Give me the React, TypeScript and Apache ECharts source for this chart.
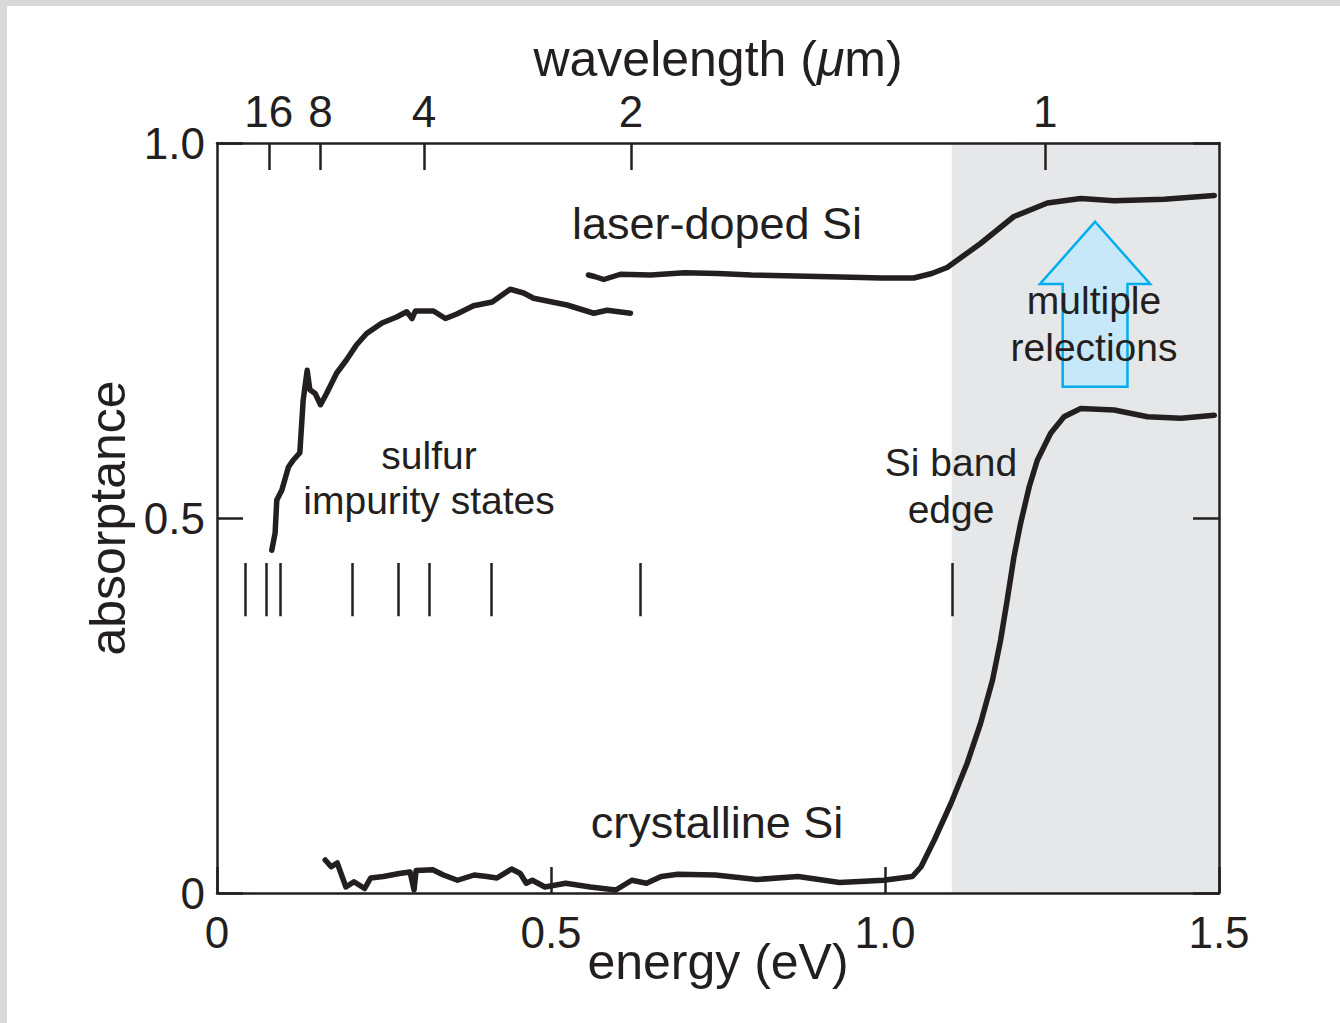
import React, { useEffect, useRef } from "react";
import * as echarts from "echarts";

const FONT = '"Liberation Sans", Arial, Helvetica, sans-serif';
const INK = "#231f20";
const HC_EV_UM = 1.2398; // photon energy (eV) x wavelength (um)

// axis ticks
const energyTicks = [0, 0.5, 1.0, 1.5];
const absorptanceTicks = [0, 0.5, 1.0];
const wavelengthTicks = [16, 8, 4, 2, 1];

// shaded region (multiple reflections), eV
const shadedRange = [1.1, 1.5];

// sulfur impurity state energies + Si band edge (eV), and the absorptance span of their markers
const stateEnergies = [0.042, 0.073, 0.094, 0.202, 0.271, 0.318, 0.411, 0.634, 1.1];
const stateMarkerSpan = [0.369, 0.44];

// laser-doped Si, low-energy measurement [eV, absorptance]
const laserDopedLow = [
  [0.082, 0.457], [0.087, 0.48], [0.0895, 0.524], [0.097, 0.537], [0.107, 0.568],
  [0.114, 0.577], [0.124, 0.587], [0.129, 0.657], [0.135, 0.697], [0.139, 0.671],
  [0.147, 0.666], [0.155, 0.651], [0.164, 0.666], [0.179, 0.693], [0.194, 0.711],
  [0.209, 0.731], [0.224, 0.746], [0.247, 0.76], [0.269, 0.768], [0.284, 0.775],
  [0.292, 0.766], [0.297, 0.776], [0.324, 0.776], [0.342, 0.766], [0.359, 0.772],
  [0.384, 0.783], [0.412, 0.788], [0.439, 0.805], [0.459, 0.8], [0.474, 0.793],
  [0.524, 0.784], [0.564, 0.773], [0.584, 0.777], [0.619, 0.773],
];

// laser-doped Si, high-energy measurement
const laserDopedHigh = [
  [0.556, 0.824], [0.565, 0.822], [0.579, 0.818], [0.604, 0.825], [0.649, 0.824],
  [0.7, 0.827], [0.75, 0.826], [0.8, 0.824], [0.85, 0.823], [0.9, 0.822],
  [0.95, 0.821], [0.994, 0.82], [1.043, 0.82], [1.07, 0.826], [1.093, 0.834],
  [1.143, 0.866], [1.193, 0.902], [1.243, 0.92], [1.293, 0.926], [1.343, 0.923],
  [1.418, 0.925], [1.493, 0.93],
];

// crystalline Si
const crystallineSi = [
  [0.162, 0.044], [0.171, 0.035], [0.18, 0.04], [0.193, 0.008], [0.205, 0.015],
  [0.221, 0.006], [0.23, 0.02], [0.249, 0.022], [0.273, 0.026], [0.289, 0.028],
  [0.295, 0.004], [0.298, 0.03], [0.323, 0.031], [0.339, 0.024], [0.36, 0.017],
  [0.385, 0.024], [0.404, 0.022], [0.419, 0.02], [0.441, 0.032], [0.454, 0.026],
  [0.463, 0.013], [0.472, 0.017], [0.491, 0.008], [0.522, 0.013], [0.559, 0.008],
  [0.597, 0.004], [0.621, 0.017], [0.643, 0.013], [0.665, 0.022], [0.69, 0.025],
  [0.746, 0.024], [0.808, 0.018], [0.87, 0.022], [0.932, 0.014], [0.998, 0.017],
  [1.041, 0.022], [1.054, 0.035], [1.074, 0.071], [1.099, 0.12], [1.123, 0.173],
  [1.143, 0.226], [1.161, 0.284], [1.173, 0.337], [1.183, 0.391], [1.193, 0.448],
  [1.203, 0.493], [1.216, 0.542], [1.228, 0.577], [1.248, 0.613], [1.268, 0.635],
  [1.293, 0.646], [1.343, 0.644], [1.393, 0.635], [1.443, 0.633], [1.493, 0.637],
];

// up arrow ("multiple reflections") in data units: tip [eV, A], half widths, head base, shaft bottom
const arrowTip = [1.3145, 0.895];
const arrowHeadHalfWidth = 0.0825;
const arrowShaftHalfWidth = 0.0485;
const arrowHeadBase = 0.812;
const arrowBottom = 0.675;

const fmtTick = (v: number) => (v === 0 ? "0" : v.toFixed(1));

export default function App() {
  const ref = useRef<HTMLDivElement>(null);

  useEffect(() => {
    if (!ref.current) return;
    const chart = echarts.init(ref.current, null, { renderer: "svg" });

    const lineStyle = { color: INK, width: 5.5, join: "round", cap: "round" };
    const tickStyle = { color: INK, width: 2.5 };
    const axisLine = { show: true, onZero: false, lineStyle: { color: INK, width: 2.5 } };
    const NAME_SIZE = 50;
    const TICK_SIZE = 44;

    const annText = (text: string, x: number, y: number, size: number) => ({
      type: "text",
      x,
      y,
      z: 100,
      style: {
        text,
        fill: INK,
        fontFamily: FONT,
        fontSize: size,
        align: "center",
        verticalAlign: "middle",
      },
    });

    chart.setOption({
      animation: false,
      backgroundColor: "#ffffff",
      grid: { left: 217, right: 121, top: 143, bottom: 130, containLabel: false },
      xAxis: [
        {
          type: "value",
          position: "bottom",
          min: energyTicks[0],
          max: energyTicks[energyTicks.length - 1],
          interval: 0.5,
          z: 3,
          name: "energy (eV)",
          nameLocation: "middle",
          nameGap: 44,
          nameMoveOverlap: false,
          nameTextStyle: { fontFamily: FONT, fontSize: NAME_SIZE, color: INK },
          axisLine,
          axisTick: { show: true, inside: true, length: 26, lineStyle: tickStyle },
          axisLabel: {
            fontFamily: FONT,
            fontSize: TICK_SIZE,
            color: INK,
            margin: 17,
            formatter: fmtTick,
          },
          splitLine: { show: false },
        },
        {
          type: "value",
          position: "top",
          min: energyTicks[0],
          max: energyTicks[energyTicks.length - 1],
          z: 3,
          name: "wavelength ({i|μ}m)",
          nameLocation: "middle",
          nameGap: 57,
          nameTextStyle: {
            fontFamily: FONT,
            fontSize: NAME_SIZE,
            color: INK,
            rich: { i: { fontFamily: FONT, fontSize: NAME_SIZE, color: INK, fontStyle: "italic" } },
          },
          axisLine,
          axisTick: {
            show: true,
            inside: true,
            length: 27,
            lineStyle: tickStyle,
            customValues: wavelengthTicks.map((w) => HC_EV_UM / w),
          },
          axisLabel: {
            fontFamily: FONT,
            fontSize: TICK_SIZE,
            color: INK,
            margin: 10,
            customValues: wavelengthTicks.map((w) => HC_EV_UM / w),
            formatter: (v: number) => String(Math.round(HC_EV_UM / v)),
          },
          splitLine: { show: false },
        },
      ],
      yAxis: [
        {
          type: "value",
          position: "left",
          min: absorptanceTicks[0],
          max: absorptanceTicks[absorptanceTicks.length - 1],
          interval: 0.5,
          z: 3,
          name: "absorptance",
          nameLocation: "middle",
          nameRotate: 90,
          nameGap: 84,
          nameTextStyle: { fontFamily: FONT, fontSize: NAME_SIZE, color: INK },
          axisLine,
          axisTick: { show: true, inside: true, length: 26, lineStyle: tickStyle },
          axisLabel: {
            fontFamily: FONT,
            fontSize: TICK_SIZE,
            color: INK,
            margin: 12,
            formatter: fmtTick,
          },
          splitLine: { show: false },
        },
        {
          type: "value",
          position: "right",
          min: absorptanceTicks[0],
          max: absorptanceTicks[absorptanceTicks.length - 1],
          interval: 0.5,
          z: 3,
          axisLine,
          axisTick: { show: true, inside: true, length: 26, lineStyle: tickStyle },
          axisLabel: { show: false },
          splitLine: { show: false },
        },
      ],
      series: [
        {
          name: "crystalline Si",
          type: "line",
          xAxisIndex: 0,
          yAxisIndex: 0,
          data: crystallineSi,
          showSymbol: false,
          symbol: "none",
          lineStyle,
          z: 2,
          markArea: {
            silent: true,
            itemStyle: { color: "#e6e7e8" },
            data: [[{ xAxis: shadedRange[0], yAxis: 0 }, { xAxis: shadedRange[1], yAxis: 1 }]],
          },
          markLine: {
            silent: true,
            symbol: ["none", "none"],
            label: { show: false },
            lineStyle: { type: "solid", color: INK, width: 2.5 },
            data: stateEnergies.map((e) => [
              { coord: [e, stateMarkerSpan[0]] },
              { coord: [e, stateMarkerSpan[1]] },
            ]),
          },
        },
        {
          name: "laser-doped Si",
          type: "line",
          xAxisIndex: 0,
          yAxisIndex: 0,
          data: laserDopedLow,
          showSymbol: false,
          symbol: "none",
          lineStyle,
          z: 2,
        },
        {
          name: "laser-doped Si (high energy)",
          type: "line",
          xAxisIndex: 0,
          yAxisIndex: 0,
          data: laserDopedHigh,
          showSymbol: false,
          symbol: "none",
          lineStyle,
          z: 2,
        },
        {
          name: "multiple reflections arrow",
          type: "custom",
          xAxisIndex: 0,
          yAxisIndex: 0,
          silent: true,
          z: 4,
          data: [[arrowTip[0], arrowTip[1]]],
          renderItem: (_params: any, api: any) => {
            const cx = arrowTip[0];
            const pts = [
              [cx, arrowTip[1]],
              [cx + arrowHeadHalfWidth, arrowHeadBase],
              [cx + arrowShaftHalfWidth, arrowHeadBase],
              [cx + arrowShaftHalfWidth, arrowBottom],
              [cx - arrowShaftHalfWidth, arrowBottom],
              [cx - arrowShaftHalfWidth, arrowHeadBase],
              [cx - arrowHeadHalfWidth, arrowHeadBase],
            ].map((p) => api.coord(p));
            return {
              type: "polygon",
              shape: { points: pts },
              style: { fill: "#c6e8f8", stroke: "#00aeef", lineWidth: 2.5, lineJoin: "miter" },
            };
          },
        },
      ],
      graphic: [
        { type: "rect", z: 0, shape: { x: 0, y: 0, width: 1340, height: 6 }, style: { fill: "#d9d9db" } },
        { type: "rect", z: 0, shape: { x: 0, y: 0, width: 7, height: 1023 }, style: { fill: "#d9d9db" } },
        annText("laser-doped Si", 717, 223, 45),
        annText("crystalline Si", 717, 822, 45),
        annText("sulfur", 429, 455, 39),
        annText("impurity states", 429, 500, 39),
        annText("Si band", 951, 462, 39),
        annText("edge", 951, 509, 39),
        annText("multiple", 1094, 300, 39),
        annText("relections", 1094, 347, 39),
      ],
    });

    return () => chart.dispose();
  }, []);

  return (
    <div
      ref={ref}
      style={{ position: "fixed", left: 0, top: 0, width: 1340, height: 1023 }}
    />
  );
}
